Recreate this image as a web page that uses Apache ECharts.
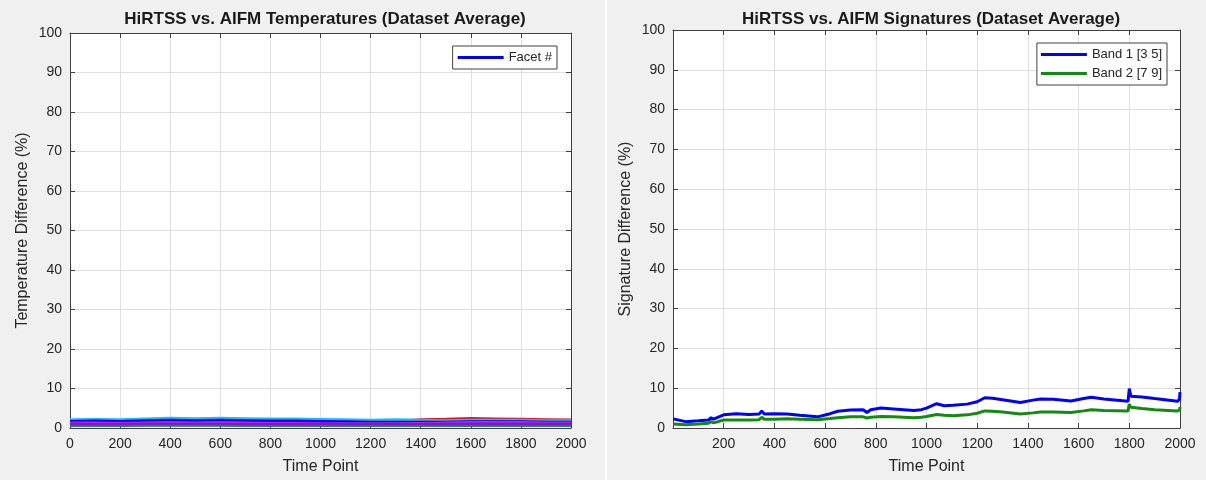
<!DOCTYPE html>
<html lang="en">
<head>
    <meta charset="UTF-8">
    <title>HiRTSS vs. AIFM</title>
    <script src="https://cdn.jsdelivr.net/npm/echarts@6/dist/echarts.min.js"></script>
    <style type="text/css">
        body{ margin:0; background:#f0f0f0; }
        #main{ width:1206px; height:480px; }
    </style>
</head>
<body>
<div id="main"></div>
<script type="application/javascript">
    // left panel: facet temperature differences, sampled every 100 time points
    var facetTime = [0,100,200,300,400,500,600,700,800,900,1000,1100,1200,1300,1400,1500,1600,1700,1800,1900,2000];
    var facetRed     = [1.4,1.4,1.3,1.4,1.5,1.5,1.5,1.4,1.4,1.4,1.4,1.4,1.5,1.7,2.1,2.2,2.4,2.3,2.2,2.1,2.0];
    var facetCyan    = [2.0,2.1,2.0,2.2,2.4,2.3,2.4,2.3,2.2,2.2,2.1,2.0,1.9,2.0,1.9,1.8,1.9,1.9,1.9,1.8,1.8];
    var facetBlue    = [1.6,1.7,1.6,1.8,1.9,1.8,1.9,1.8,1.7,1.7,1.6,1.5,1.4,1.4,1.4,1.4,1.5,1.5,1.5,1.4,1.4];
    var facetMagenta = [1.2,1.2,1.1,1.2,1.3,1.2,1.3,1.2,1.1,1.1,1.0,1.0,1.0,1.0,1.1,1.2,1.3,1.3,1.3,1.2,1.2];
    var facetPurple  = [0.9,0.8,0.8,0.9,0.9,0.9,0.9,0.8,0.8,0.8,0.8,0.8,0.8,0.8,0.8,0.9,0.9,0.9,0.9,0.9,0.9];
    var facetTeal    = [0.5,0.5,0.5,0.6,0.6,0.6,0.6,0.5,0.5,0.5,0.5,0.5,0.5,0.5,0.5,0.5,0.5,0.5,0.5,0.5,0.5];

    // right panel: band signature differences
    var bandTime = [1,5,50,100,140,150,160,200,250,300,
                    340,350,360,400,450,500,570,620,650,700,
                    750,765,780,820,870,950,980,1000,1040,1070,
                    1105,1160,1200,1230,1260,1300,1370,1420,1450,1500,
                    1570,1620,1650,1700,1795,1800,1806,1850,1900,1990,
                    1998,2000];
    var band1 = [2.3,1.8,1.6,1.8,2.0,2.6,2.2,3.3,3.6,3.4,
                 3.5,4.3,3.5,3.6,3.5,3.2,2.8,3.6,4.2,4.5,
                 4.6,3.9,4.6,5.0,4.8,4.4,4.6,5.0,6.1,5.6,
                 5.7,6.0,6.6,7.6,7.5,7.1,6.4,7.0,7.3,7.2,
                 6.8,7.4,7.7,7.3,6.7,9.9,8.0,7.8,7.4,6.7,
                 7.2,9.0];
    var band2 = [1.0,0.8,0.8,1.0,1.2,1.6,1.3,2.0,2.0,2.0,
                 2.1,2.7,2.2,2.2,2.3,2.2,2.1,2.4,2.6,2.8,
                 2.8,2.5,2.7,2.9,2.8,2.6,2.7,2.9,3.4,3.2,
                 3.1,3.3,3.7,4.3,4.2,4.0,3.5,3.8,4.0,4.0,
                 3.9,4.3,4.6,4.4,4.3,6.0,5.2,4.9,4.6,4.3,
                 4.5,5.3];
    var yTicks = [0,10,20,30,40,50,60,70,80,90,100];

    function pairs(xs, ys) {
        return xs.map(function (x, i) { return [x, ys[i]]; });
    }

    var font = 'Liberation Sans, Arial, sans-serif';
    var axisColor = '#404040';
    var textColor = '#262626';

    function xAx(grid, pos, showLabel, name) {
        return {
            type: 'value', gridIndex: grid, position: pos, min: 0, max: 2000, interval: 200,
            name: name, nameLocation: 'middle', nameGap: 31,
            nameTextStyle: { fontFamily: font, fontSize: 16, color: textColor },
            axisLine: { show: true, onZero: false, lineStyle: { color: axisColor } },
            axisTick: { show: true, inside: true, length: 5, lineStyle: { color: axisColor } },
            axisLabel: {
                show: showLabel, margin: 9, fontFamily: font, fontSize: 14, color: textColor,
                formatter: function (v) { return (grid === 1 && v === 0) ? '' : v; }
            },
            splitLine: { show: showLabel, lineStyle: { color: '#dfdfdf' } }
        };
    }
    function yAx(grid, pos, showLabel, name) {
        return {
            type: 'value', gridIndex: grid, position: pos, min: yTicks[0], max: yTicks[yTicks.length - 1], interval: 10,
            name: name, nameLocation: 'middle', nameGap: 39,
            nameTextStyle: { fontFamily: font, fontSize: 16, color: textColor },
            axisLine: { show: true, onZero: false, lineStyle: { color: axisColor } },
            axisTick: { show: true, inside: true, length: 5, lineStyle: { color: axisColor } },
            axisLabel: { show: showLabel, margin: 8, fontFamily: font, fontSize: 14, color: textColor },
            splitLine: { show: showLabel, lineStyle: { color: '#dfdfdf' } }
        };
    }
    function line(name, x, y, data, color, w) {
        return {
            name: name, type: 'line', xAxisIndex: x, yAxisIndex: y, data: data,
            showSymbol: false, silent: true, animation: false,
            lineStyle: { color: color, width: w }, itemStyle: { color: color }
        };
    }

    var myChart = echarts.init(document.getElementById('main'));
    myChart.setOption({
        backgroundColor: '#f0f0f0',
        graphic: [{
            type: 'rect', shape: { x: 605, y: 0, width: 2, height: 480 },
            style: { fill: '#ffffff' }, silent: true
        }],
        title: [{
            text: 'HiRTSS vs. AIFM Temperatures (Dataset Average)',
            left: 320, top: 6, textAlign: 'center',
            textStyle: { fontFamily: font, fontSize: 17, fontWeight: 'bold', color: '#1a1a1a' }
        }, {
            text: 'HiRTSS vs. AIFM Signatures (Dataset Average)',
            left: 926, top: 6, textAlign: 'center',
            textStyle: { fontFamily: font, fontSize: 17, fontWeight: 'bold', color: '#1a1a1a' }
        }],
        legend: [{
            data: ['Facet #'], right: 649, top: 46,
            backgroundColor: '#ffffff', borderColor: '#404040', borderWidth: 1, borderRadius: 0,
            padding: [5, 5, 5, 5], itemWidth: 46, itemHeight: 3, icon: 'rect',
            textStyle: { fontFamily: font, fontSize: 13, color: textColor }
        }, {
            data: ['Band 1 [3 5]', 'Band 2 [7 9]'], right: 39, top: 43, orient: 'vertical',
            backgroundColor: '#ffffff', borderColor: '#404040', borderWidth: 1, borderRadius: 0,
            padding: [5, 5, 5, 4], itemGap: 6, itemWidth: 46, itemHeight: 3, icon: 'rect',
            textStyle: { fontFamily: font, fontSize: 13, color: textColor }
        }],
        grid: [
            { left: 70, top: 33, width: 501, height: 397, show: true, backgroundColor: '#ffffff', borderWidth: 0 },
            { left: 673, top: 30, width: 507, height: 400, show: true, backgroundColor: '#ffffff', borderWidth: 0 }
        ],
        xAxis: [
            xAx(0, 'bottom', true, 'Time Point'),
            xAx(0, 'top', false, ''),
            xAx(1, 'bottom', true, 'Time Point'),
            xAx(1, 'top', false, '')
        ],
        yAxis: [
            yAx(0, 'left', true, 'Temperature Difference (%)'),
            yAx(0, 'right', false, ''),
            yAx(1, 'left', true, 'Signature Difference (%)'),
            yAx(1, 'right', false, '')
        ],
        series: [
            line('red', 0, 0, pairs(facetTime, facetRed), '#ee1111', 3),
            line('cyan', 0, 0, pairs(facetTime, facetCyan), '#12c6e0', 3.5),
            line('Facet #', 0, 0, pairs(facetTime, facetBlue), '#0000ff', 3.5),
            line('magenta', 0, 0, pairs(facetTime, facetMagenta), '#e010e6', 3.5),
            line('purple', 0, 0, pairs(facetTime, facetPurple), '#7020c0', 3.5),
            line('teal', 0, 0, pairs(facetTime, facetTeal), '#207878', 2),
            line('Band 1 [3 5]', 2, 2, pairs(bandTime, band1), '#0000ff', 3),
            line('Band 2 [7 9]', 2, 2, pairs(bandTime, band2), '#138a13', 3)
        ]
    });
</script>
</body>
</html>
